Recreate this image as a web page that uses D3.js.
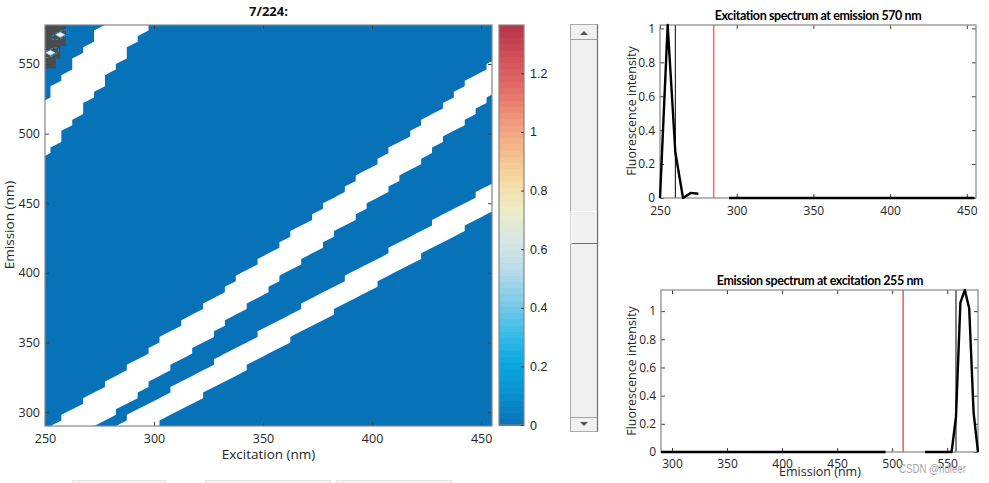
<!DOCTYPE html>
<html>
<head>
<meta charset="utf-8">
<script src="https://cdn.jsdelivr.net/npm/d3@7"></script>
<style>
  html, body { margin: 0; padding: 0; background: #ffffff; }
  svg { display: block; font-family: "Open Sans", "Noto Sans", sans-serif; }
</style>
</head>
<body>
<svg id="chart" width="989" height="483"></svg>
<script>
// ---------------- DATA ----------------
const sampleTitle = "7/224:";
const excitation = d3.range(250, 456, 5);          // nm grid (columns)
const emission = d3.range(290, 579, 4);            // nm grid (rows)
// scatter bands removed from the EEM (em - reference line, nm): [low, high]
const rayleigh1Band = [-10, 8];    // em - ex
const ramanBand = [-12, 14];       // em - raman(ex)
const rayleigh2Band = [-17, 24];   // em - 2*ex
const ramanShift = 3400;           // cm^-1
// dense contour blob of the peak in the top-left corner (ex, em)
const peakOutline = [[250,578],[259.5,578],[259.5,563],[257,563],[257,554],[255,554],[255,547],[250,547]];
const peakHighlights = [[257,571],[252.5,558]];

const heatXTicks = [250, 300, 350, 400, 450];
const heatYTicks = [300, 350, 400, 450, 500, 550];
const cbarTicks = [0, 0.2, 0.4, 0.6, 0.8, 1, 1.2];
const cbarMax = 1.365;
const cmapColors = ["#0872b9","#0a8fd0","#0aa8e0","#3bbbe8","#7ccbe6","#b4dbea","#d9e6e3",
                    "#eeebc6","#f6d9a0","#f4b88a","#ef9479","#e26a68","#d24f57","#b3354a"];

// Excitation spectrum at emission 570 nm
const exSpecTitle = "Excitation spectrum at emission 570 nm";
const exSpecEx = [250,255,260,265,270,275,280,285,290,295,300,305,310,315,320,325,330,335,340,345,350,
                  355,360,365,370,375,380,385,390,395,400,405,410,415,420,425,430,435,440,445,450,455];
const exSpecVal = [0,1.02,0.27,0,0.03,0.025,null,null,null,0,0,0,0,0,0,0,0,0,0,0,0,
                   0,0,0,0,0,0,0,0,0,0,0,0,0,0,0,0,0,0,0,0,0];
const exSpecCursor = 260;
const exSpecRed = 285;
const exSpecXTicks = [250, 300, 350, 400, 450];
const exSpecYTicks = [0, 0.2, 0.4, 0.6, 0.8, 1];

// Emission spectrum at excitation 255 nm
const emSpecTitle = "Emission spectrum at excitation 255 nm";
const emSpecEm = emission;
const emSpecVal = [
  0,0,0,0,0,0,0,0,0,0,0,0,0,0,0,0,0,0,0,0,0,0,0,0,0,0,   // 290-390
  0,0,0,0,0,0,0,0,0,0,0,0,0,0,0,0,0,0,0,0,0,0,0,0,0,0,   // 394-494
  null,null,null,null,null,null,null,null,                // 498-526
  0,0,0,0,0,0,0,                                          // 530-554
  0.25,1.06,1.15,1.02,0.28,0                              // 558-578
];
const emSpecCursor = 558;
const emSpecRed = 510;
const emSpecXTicks = [300, 350, 400, 450, 500, 550];
const emSpecYTicks = [0, 0.2, 0.4, 0.6, 0.8, 1];

const watermark = "CSDN @hdleer";

// ---------------- SETUP ----------------
const svg = d3.select("#chart");
const TXT = "#262626";
const BOX = "#868686";
const FONT = "12px";

function ramanLine(ex) { return 1e7 / (1e7 / ex - ramanShift); }
function isScatter(ex, em) {
  const d1 = em - ex, d2 = em - ramanLine(ex), d3v = em - 2 * ex;
  if (d1 >= rayleigh1Band[0] && d1 <= rayleigh1Band[1]) return true;
  if (d2 >= ramanBand[0] && d2 <= ramanBand[1]) return true;
  if (d3v >= rayleigh2Band[0] && d3v <= rayleigh2Band[1]) return true;
  return false;
}

function boxAxes(g, x, y, xt, yt, opts) {
  const [x0, x1] = x.range(), [y0, y1] = y.range(); // y0 bottom, y1 top
  const xa = g.append("g").attr("transform", `translate(0,${y0})`)
    .call(d3.axisBottom(x).tickValues(xt).tickSize(-4).tickPadding(opts.xpad || 7)
      .tickFormat(opts.xfmt || (d => d)));
  const xt2 = g.append("g").attr("transform", `translate(0,${y1})`)
    .call(d3.axisTop(x).tickValues(xt).tickSize(-4).tickFormat(""));
  const ya = g.append("g").attr("transform", `translate(${x0},0)`)
    .call(d3.axisLeft(y).tickValues(yt).tickSize(-4).tickPadding(opts.ypad || 5)
      .tickFormat(opts.yfmt || (d => d)));
  const yt2 = g.append("g").attr("transform", `translate(${x1},0)`)
    .call(d3.axisRight(y).tickValues(yt).tickSize(-4).tickFormat(""));
  [xa, xt2, ya, yt2].forEach(a => {
    a.select(".domain").remove();
    a.selectAll(".tick line").attr("stroke", "#404040");
    a.selectAll(".tick text").attr("fill", TXT).style("font-size", opts.fs || FONT)
      .style("font-family", '"Open Sans", sans-serif');
  });
  g.append("rect").attr("x", x0).attr("y", y1).attr("width", x1 - x0).attr("height", y0 - y1)
    .attr("fill", "none").attr("stroke", BOX).attr("stroke-width", 1.2);
}

// ---------------- HEATMAP (filled contour of the EEM) ----------------
const hx = d3.scaleLinear().domain([250, 455]).range([45, 492]);
const hy = d3.scaleLinear().domain([290, 578]).range([426, 25]);
const color = d3.scaleLinear()
  .domain(cmapColors.map((c, i) => i * cbarMax / (cmapColors.length - 1)))
  .range(cmapColors).interpolate(d3.interpolateRgb).clamp(true);

const nx = excitation.length, ny = emission.length;
const validGrid = new Array(nx * ny);
for (let j = 0; j < ny; j++) for (let i = 0; i < nx; i++)
  validGrid[j * nx + i] = isScatter(excitation[i], emission[j]) ? 0 : 1;
const eemValue = 0; // intensity everywhere outside the peak corner

svg.append("clipPath").attr("id", "heatClip").append("rect")
  .attr("x", 45).attr("y", 25).attr("width", 447).attr("height", 401);
const heat = svg.append("g").attr("clip-path", "url(#heatClip)");

const dEx = excitation[1] - excitation[0], dEm = emission[1] - emission[0];
const gridProj = d3.geoTransform({
  point: function (gx, gy) {
    this.stream.point(hx(excitation[0] + (gx - 0.5) * dEx), hy(emission[0] + (gy - 0.5) * dEm));
  }
});
const contourPath = d3.geoPath(gridProj);
const regions = d3.contours().size([nx, ny]).smooth(true).thresholds([0.5])(validGrid);
heat.selectAll("path.region").data(regions).join("path").attr("class", "region")
  .attr("d", contourPath).attr("fill", color(eemValue));

// peak contour blob
heat.append("path")
  .attr("d", d3.line().x(d => hx(d[0])).y(d => hy(d[1])).curve(d3.curveLinearClosed)(peakOutline))
  .attr("fill", "#4b4b4b");
peakHighlights.forEach(p => {
  const cx = hx(p[0]), cy = hy(p[1]);
  heat.append("ellipse").attr("cx", cx).attr("cy", cy).attr("rx", 9).attr("ry", 3.5)
    .attr("transform", `rotate(-25 ${cx} ${cy})`)
    .attr("fill", "none").attr("stroke", "#2d8fcf").attr("stroke-width", 1).attr("stroke-dasharray", "3,1.5");
  heat.append("path")
    .attr("d", `M${cx - 4.5},${cy} L${cx},${cy - 2.5} L${cx + 4.5},${cy} L${cx},${cy + 2.5} Z`)
    .attr("fill", "#e6f6f8").attr("stroke", "#bfe6f0").attr("stroke-width", 0.6);
});

boxAxes(svg.append("g"), hx, hy, heatXTicks, heatYTicks, { xpad: 8, ypad: 5, fs: "12.5px" });

svg.append("text").attr("x", 268.5).attr("y", 16).attr("text-anchor", "middle")
  .attr("fill", "#111").style("font-size", "13px").style("font-weight", "bold").text(sampleTitle);
svg.append("text").attr("x", 268.5).attr("y", 459).attr("text-anchor", "middle")
  .attr("fill", TXT).style("font-size", "13.5px").text("Excitation (nm)");
svg.append("text").attr("transform", "translate(14,225) rotate(-90)").attr("text-anchor", "middle")
  .attr("fill", TXT).style("font-size", "13.5px").text("Emission (nm)");

// ---------------- COLORBAR ----------------
const cb = svg.append("g");
const cy = d3.scaleLinear().domain([0, cbarMax]).range([425, 25]);
const nLev = 64;
const levels = d3.range(nLev).map(k => k * cbarMax / nLev);
cb.selectAll("rect.lev").data(levels).join("rect").attr("class", "lev")
  .attr("x", 499).attr("width", 25)
  .attr("y", d => cy(d + cbarMax / nLev)).attr("height", d => cy(d) - cy(d + cbarMax / nLev) + 0.5)
  .attr("fill", d => color(d + cbarMax / nLev / 2)).attr("shape-rendering", "crispEdges");
cb.append("rect").attr("x", 499).attr("y", 25).attr("width", 25).attr("height", 400)
  .attr("fill", "none").attr("stroke", BOX).attr("stroke-width", 1.2);
const cba = cb.append("g").attr("transform", "translate(524,0)")
  .call(d3.axisRight(cy).tickValues(cbarTicks).tickSize(-3).tickPadding(6).tickFormat(d => d));
cba.select(".domain").remove();
cba.selectAll(".tick line").attr("stroke", "#404040");
cba.selectAll(".tick text").attr("fill", TXT).style("font-size", "12.5px");

// ---------------- SCROLLBAR ----------------
const sb = svg.append("g");
sb.append("rect").attr("x", 570.5).attr("y", 24.5).attr("width", 27).attr("height", 407)
  .attr("fill", "#f0f0f0").attr("stroke", "#a9a9a9");
sb.append("line").attr("x1", 597.5).attr("x2", 597.5).attr("y1", 24.5).attr("y2", 431.5)
  .attr("stroke", "#6e6e6e").attr("stroke-width", 1.2);
sb.append("line").attr("x1", 570.5).attr("x2", 597.5).attr("y1", 39.5).attr("y2", 39.5).attr("stroke", "#a0a0a0");
sb.append("line").attr("x1", 570.5).attr("x2", 597.5).attr("y1", 417.5).attr("y2", 417.5).attr("stroke", "#a0a0a0");
sb.append("path").attr("d", "M580,35 L584,31 L588,35 Z").attr("fill", "#555");
sb.append("path").attr("d", "M580,422 L584,426 L588,422 Z").attr("fill", "#555");
sb.append("rect").attr("x", 571).attr("y", 211.5).attr("width", 26).attr("height", 32)
  .attr("fill", "#f0f0f0").attr("stroke", "#ffffff");
sb.append("path").attr("d", "M571.5,243.5 H597.5 V211").attr("fill", "none").attr("stroke", "#6e6e6e").attr("stroke-width", 1.2);

// faint buttons at the bottom
[[72, 165], [205, 330], [336, 451]].forEach(b => {
  svg.append("rect").attr("x", b[0] + 0.5).attr("y", 480.5).attr("width", b[1] - b[0]).attr("height", 6)
    .attr("fill", "#f4f4f4").attr("stroke", "#e2e2e2");
});

// ---------------- EXCITATION SPECTRUM ----------------
const ax = d3.scaleLinear().domain([250, 456]).range([660, 976]);
const ay = d3.scaleLinear().domain([0, 1.02]).range([198, 25]);
const g1 = svg.append("g");
const exData = exSpecEx.map((e, i) => ({ x: e, v: exSpecVal[i] }));
g1.append("line").attr("x1", ax(exSpecRed)).attr("x2", ax(exSpecRed)).attr("y1", ay.range()[0]).attr("y2", ay.range()[1])
  .attr("stroke", "#f07070").attr("stroke-width", 1.6);
g1.append("line").attr("x1", ax(exSpecCursor)).attr("x2", ax(exSpecCursor)).attr("y1", ay.range()[0]).attr("y2", ay.range()[1])
  .attr("stroke", "#000").attr("stroke-width", 1);
boxAxes(g1, ax, ay, exSpecXTicks, exSpecYTicks, { xpad: 8, ypad: 5, fs: "12px" });
g1.append("path").datum(exData)
  .attr("d", d3.line().defined(d => d.v !== null).x(d => ax(d.x)).y(d => ay(d.v)))
  .attr("fill", "none").attr("stroke", "#000").attr("stroke-width", 2.4).attr("stroke-linejoin", "round");
svg.append("text").attr("x", 818).attr("y", 20).attr("text-anchor", "middle").attr("fill", "#000")
  .style("font-family", "Lato, sans-serif").style("font-size", "12.5px").style("font-weight", "bold")
  .style("letter-spacing", "-0.4px").text(exSpecTitle);
svg.append("text").attr("transform", "translate(636,111) rotate(-90)").attr("text-anchor", "middle")
  .attr("fill", TXT).style("font-size", "12.5px").text("Fluorescence intensity");

// ---------------- EMISSION SPECTRUM ----------------
const bx = d3.scaleLinear().domain([290, 578]).range([661, 978]);
const by = d3.scaleLinear().domain([0, 1.15]).range([452, 290]);
const g2 = svg.append("g");
const emData = emSpecEm.map((e, i) => ({ x: e, v: emSpecVal[i] }));
g2.append("line").attr("x1", bx(emSpecRed)).attr("x2", bx(emSpecRed)).attr("y1", by.range()[0]).attr("y2", by.range()[1])
  .attr("stroke", "#f06060").attr("stroke-width", 1.6);
g2.append("line").attr("x1", bx(emSpecCursor)).attr("x2", bx(emSpecCursor)).attr("y1", by.range()[0]).attr("y2", by.range()[1])
  .attr("stroke", "#000").attr("stroke-width", 1);
boxAxes(g2, bx, by, emSpecXTicks, emSpecYTicks, { xpad: 7, ypad: 5, fs: "12px" });
g2.append("path").datum(emData)
  .attr("d", d3.line().defined(d => d.v !== null).x(d => bx(d.x)).y(d => by(d.v)))
  .attr("fill", "none").attr("stroke", "#000").attr("stroke-width", 2.4).attr("stroke-linejoin", "round");
svg.append("text").attr("x", 820).attr("y", 285).attr("text-anchor", "middle").attr("fill", "#000")
  .style("font-family", "Lato, sans-serif").style("font-size", "12.5px").style("font-weight", "bold")
  .style("letter-spacing", "-0.4px").text(emSpecTitle);
svg.append("text").attr("transform", "translate(636,371) rotate(-90)").attr("text-anchor", "middle")
  .attr("fill", TXT).style("font-size", "12.5px").text("Fluorescence intensity");
svg.append("text").attr("x", 820).attr("y", 476).attr("text-anchor", "middle")
  .attr("fill", TXT).style("font-size", "12.5px").text("Emission (nm)");

// watermark
svg.append("text").attr("x", 899).attr("y", 473).attr("text-anchor", "start")
  .attr("textLength", 67).attr("lengthAdjust", "spacingAndGlyphs")
  .attr("fill", "#a8a8a8").style("font-family", "Liberation Sans, Arial, sans-serif").style("font-size", "12px")
  .text(watermark);
</script>
</body>
</html>
